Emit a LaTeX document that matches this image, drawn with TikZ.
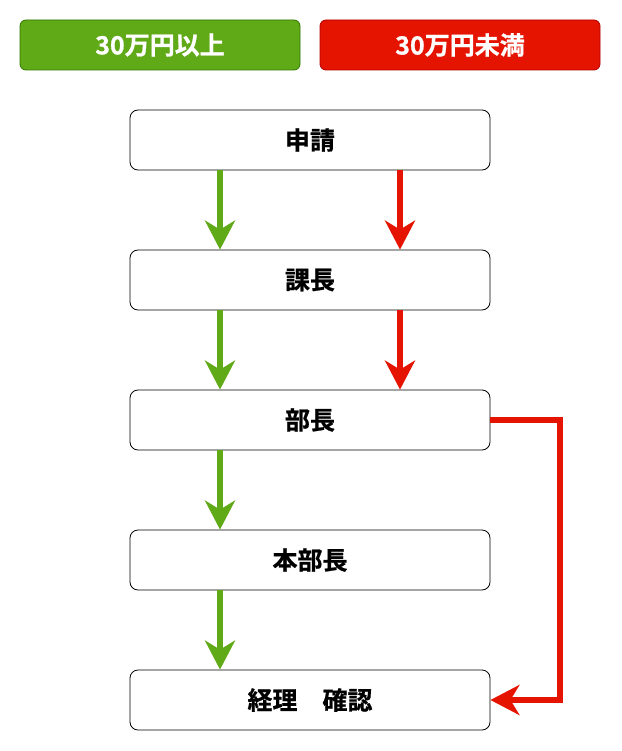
\documentclass[tikz,border=0pt]{standalone}
\usepackage{fontspec}
\newfontfamily\cjk[FakeBold=0.8]{Noto Sans CJK JP Bold}
\usetikzlibrary{arrows.meta,calc}
\definecolor{grn}{HTML}{60A917}
\definecolor{grnline}{HTML}{2D7600}
\definecolor{rd}{HTML}{E51400}
\definecolor{rdline}{HTML}{B20000}
\begin{document}
\begin{tikzpicture}[x=1pt,y=-1pt,
  legend/.style={rounded corners=6pt, line width=0.8pt, minimum width=280pt, minimum height=50pt, inner sep=0pt, text=white, font=\cjk\fontsize{25}{29}\selectfont},
  stepbox/.style={draw=black, fill=white, rounded corners=8pt, line width=0.8pt, minimum width=360pt, minimum height=60pt, inner sep=0pt, font=\cjk\fontsize{25}{29}\selectfont},
  flow/.style={line width=6pt, -{Stealth[length=29pt,width=30pt,inset=9pt]}},
  gflow/.style={flow, draw=grn, color=grn},
  rflow/.style={flow, draw=rd, color=rd}]
\useasboundingbox (0,0) rectangle (621,751);
\node[legend, fill=grn, draw=grnline] (lg) at (160,45) {30万円以上};
\node[legend, fill=rd, draw=rdline] (lr) at (460,45) {30万円未満};
\node[stepbox] (a) at (310,140) {申請};
\node[stepbox] (b) at (310,280) {課長};
\node[stepbox] (c) at (310,420) {部長};
\node[stepbox] (d) at (310,560) {本部長};
\node[stepbox] (e) at (310,700) {経理　確認};
\draw[gflow] ($(a.south)+(-90,0)$) -- ($(b.north)+(-90,0)$);
\draw[rflow] ($(a.south)+(90,0)$) -- ($(b.north)+(90,0)$);
\draw[gflow] ($(b.south)+(-90,0)$) -- ($(c.north)+(-90,0)$);
\draw[rflow] ($(b.south)+(90,0)$) -- ($(c.north)+(90,0)$);
\draw[gflow] ($(c.south)+(-90,0)$) -- ($(d.north)+(-90,0)$);
\draw[gflow] ($(d.south)+(-90,0)$) -- ($(e.north)+(-90,0)$);
\coordinate (k1) at (560,420);
\coordinate (k2) at (560,700);
\draw[rflow, line join=miter] (c.east) -- (k1) -- (k2) -- (e.east);
\end{tikzpicture}
\end{document}
